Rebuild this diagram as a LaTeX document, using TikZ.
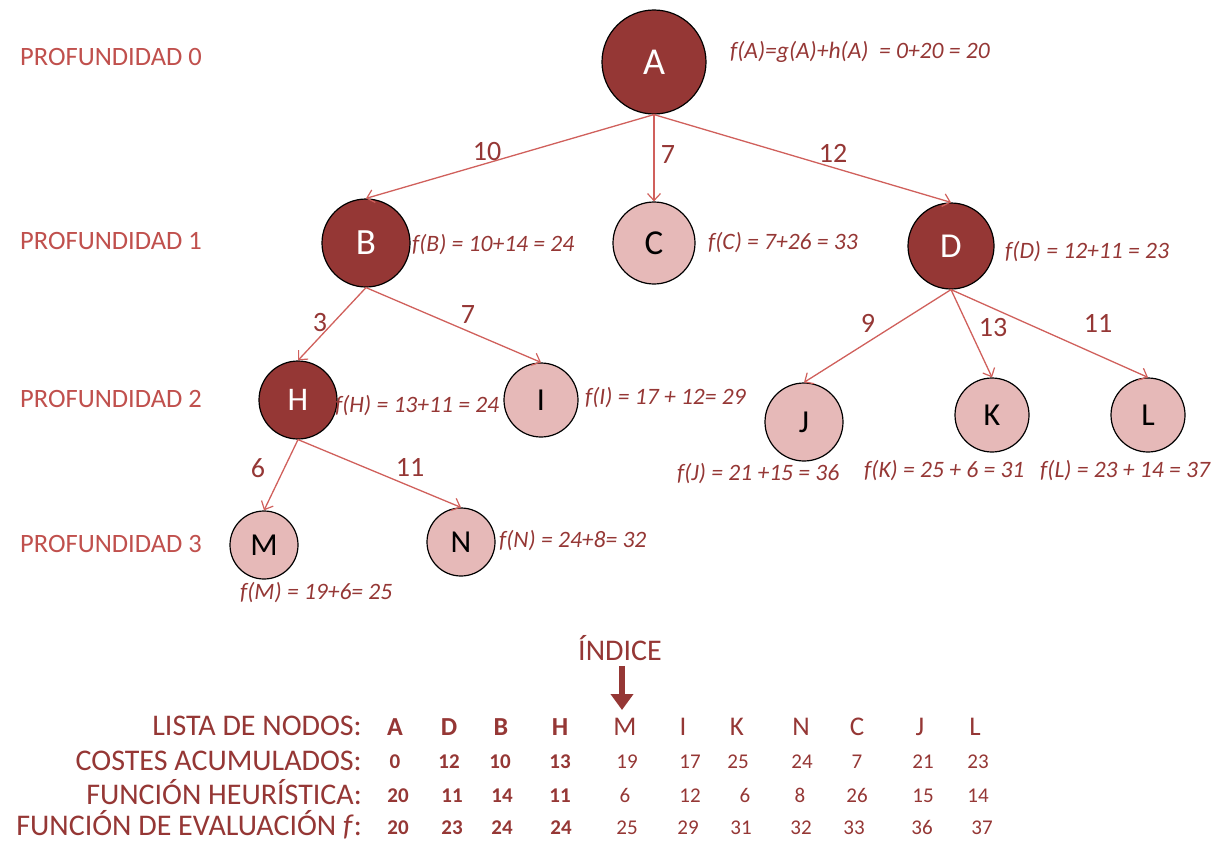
\documentclass[tikz,border=0pt]{standalone}
\usepackage{fontspec}
\setmainfont{Carlito}
\usetikzlibrary{arrows.meta}

\definecolor{nodedark}{HTML}{953735}
\definecolor{nodelight}{HTML}{E6B9B8}
\definecolor{edgered}{HTML}{D0605C}
\definecolor{labelred}{HTML}{953735}
\definecolor{depthred}{HTML}{C0504D}

\newcommand\sz[1]{\fontsize{#1}{#1}\selectfont}

\tikzset{
  visited/.style={circle, draw=black, line width=1.2pt, fill=nodedark,
                  text=white, inner sep=0pt},
  pending/.style={circle, draw=black, line width=1.2pt, fill=nodelight,
                  text=black, inner sep=0pt},
  edge/.style={draw=edgered, line width=1.3pt,
               -{Straight Barb[length=7pt,width=13pt,line width=1.2pt]}},
  cost/.style={text=labelred, inner sep=0pt, font=\sz{28}},
  feval/.style={text=labelred, inner sep=0pt, anchor=west, font=\sz{23.5}\itshape},
  depth/.style={text=depthred, inner sep=0pt, anchor=west, font=\sz{26.5}},
  rowlabel/.style={text=labelred, inner sep=0pt, anchor=base east, font=\sz{30}},
  cellb/.style={text=labelred, inner sep=0pt, anchor=base, font=\sz{21}\bfseries},
  cell/.style={text=labelred, inner sep=0pt, anchor=base, font=\sz{21}},
  letb/.style={text=labelred, inner sep=0pt, anchor=base, font=\sz{26}\bfseries},
  let/.style={text=labelred, inner sep=0pt, anchor=base, font=\sz{27}},
}

\begin{document}
\begin{tikzpicture}[x=1pt, y=-1pt]
\useasboundingbox (0,0) rectangle (1220,843);

% depth labels
\node[depth] (p0) at (20,57)  {PROFUNDIDAD 0};
\node[depth] (p1) at (20,241) {PROFUNDIDAD 1};
\node[depth] (p2) at (20,399) {PROFUNDIDAD 2};
\node[depth] (p3) at (20,544) {PROFUNDIDAD 3};

% search tree
\node[visited, minimum size=104pt, font=\sz{38}] (A) at (654,62)  {A};
\node[visited, minimum size=88pt,  font=\sz{37}] (B) at (366,243) {B};
\node[pending, minimum size=82pt,  font=\sz{35}] (C) at (654,243) {C};
\node[visited, minimum size=86pt,  font=\sz{35}] (D) at (951,246) {D};
\node[visited, minimum size=78pt,  font=\sz{33}] (H) at (298,400) {H};
\node[pending, minimum size=74pt,  font=\sz{32}] (I) at (541,400) {I};
\node[pending, minimum size=78pt,  font=\sz{32}] (J) at (804,422) {J};
\node[pending, minimum size=74pt,  font=\sz{32}] (K) at (992,415) {K};
\node[pending, minimum size=74pt,  font=\sz{32}] (L) at (1148,415) {L};
\node[pending, minimum size=68pt,  font=\sz{32}] (M) at (264,545) {M};
\node[pending, minimum size=68pt,  font=\sz{32}] (N) at (461,542) {N};

% branches
\draw[edge] (A.south) -- (B.north);
\draw[edge] (A.south) -- (C.north);
\draw[edge] (A.south) -- (D.north);
\draw[edge] (B.south) -- (H.north);
\draw[edge] (B.south) -- (I.north);
\draw[edge] (D.south) -- (J.north);
\draw[edge] (D.south) -- (K.north);
\draw[edge] (D.south) -- (L.north);
\draw[edge] (H.south) -- (M.north);
\draw[edge] (H.south) -- (N.north);

% branch costs
\node[cost] (cAB) at (487,152) {10};
\node[cost] (cAC) at (668,155) {7};
\node[cost] (cAD) at (833,153) {12};
\node[cost] (cBH) at (320,323) {3};
\node[cost] (cBI) at (468,315) {7};
\node[cost] (cDJ) at (868,323) {9};
\node[cost] (cDK) at (993,328) {13};
\node[cost] (cDL) at (1098,323) {11};
\node[cost] (cHM) at (258,468) {6};
\node[cost] (cHN) at (410,467) {11};

% evaluation function at each node
\node[feval] (fA) at (730,52)  {f(A)=g(A)+h(A)\ \ = 0+20 = 20};
\node[feval] (fB) at (412,245) {f(B) = 10+14 = 24};
\node[feval] (fC) at (708,243) {f(C) = 7+26 = 33};
\node[feval] (fD) at (1005,252) {f(D) = 12+11 = 23};
\node[feval] (fH) at (335,406) {f(H) = 13+11 = 24};
\node[feval] (fI) at (585,398) {f(I) = 17 + 12= 29};
\node[feval] (fJ) at (677,474) {f(J) = 21 +15 = 36};
\node[feval] (fK) at (864,471) {f(K) = 25 + 6 = 31};
\node[feval] (fL) at (1040,471) {f(L) = 23 + 14 = 37};
\node[feval] (fM) at (240,593) {f(M) = 19+6= 25};
\node[feval] (fN) at (499,541) {f(N) = 24+8= 32};

% node list table
\node[rowlabel] (r1) at (362,735) {LISTA DE NODOS:};
\node[rowlabel] (r2) at (362,770) {COSTES ACUMULADOS:};
\node[rowlabel] (r3) at (362,804) {FUNCIÓN HEURÍSTICA:};
\node[rowlabel] (r4) at (362,835) {FUNCIÓN DE EVALUACIÓN \textit{f}:};

\node[letb] (lA) at (395,735) {A};
\node[letb] (lD) at (449,735) {D};
\node[letb] (lB) at (501,735) {B};
\node[letb] (lH) at (560,735) {H};
\node[let]  (lM) at (625,735) {M};
\node[let]  (lI) at (683,735) {I};
\node[let]  (lK) at (737,735) {K};
\node[let]  (lN) at (801,735) {N};
\node[let]  (lC) at (857,735) {C};
\node[let]  (lJ) at (920,735) {J};
\node[let]  (lL) at (975,735) {L};

\node[cellb] at (395,768) {0};
\node[cellb] at (449,768) {12};
\node[cellb] at (500,768) {10};
\node[cellb] at (560,768) {13};
\node[cell]  at (627,768) {19};
\node[cell]  at (690,768) {17};
\node[cell]  at (738,768) {25};
\node[cell]  at (802,768) {24};
\node[cell]  at (857,768) {7};
\node[cell]  at (923,768) {21};
\node[cell]  at (978,768) {23};

\node[cellb] at (398,802) {20};
\node[cellb] at (452,802) {11};
\node[cellb] at (502,802) {14};
\node[cellb] at (560,802) {11};
\node[cell]  at (625,802) {6};
\node[cell]  at (690,802) {12};
\node[cell]  at (745,802) {6};
\node[cell]  at (800,802) {8};
\node[cell]  at (857,802) {26};
\node[cell]  at (923,802) {15};
\node[cell]  at (978,802) {14};

\node[cellb] at (398,834) {20};
\node[cellb] at (452,834) {23};
\node[cellb] at (502,834) {24};
\node[cellb] at (561,834) {24};
\node[cell]  at (627,834) {25};
\node[cell]  at (688,834) {29};
\node[cell]  at (741,834) {31};
\node[cell]  at (801,834) {32};
\node[cell]  at (854,834) {33};
\node[cell]  at (922,834) {36};
\node[cell]  at (982,834) {37};

% current index pointer
\node[text=labelred, inner sep=0pt, font=\sz{30}] (idx) at (620,648) {ÍNDICE};
\coordinate (tipM) at (622,710);
\draw[nodedark, line width=5.5pt, -{Triangle[length=16pt,width=22pt]}]
  (idx.south -| tipM) ++(0,5) -- (tipM);
\end{tikzpicture}
\end{document}
